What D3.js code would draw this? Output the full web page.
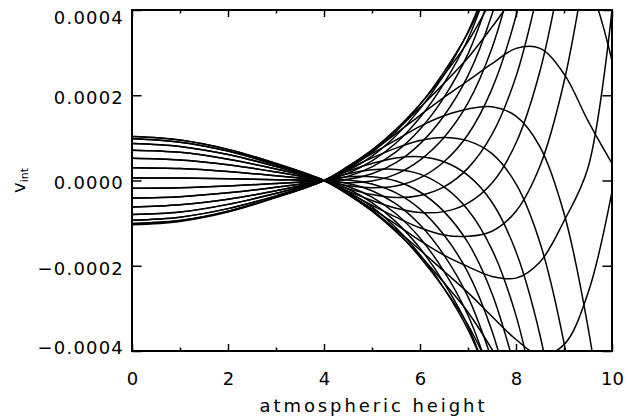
<!DOCTYPE html>
<html>
<head>
<meta charset="utf-8">
<script src="https://cdn.jsdelivr.net/npm/d3@7"></script>
<style>
  html, body { margin: 0; padding: 0; background: #fff; }
  svg { display: block; font-family: "DejaVu Sans", sans-serif; }
</style>
</head>
<body>
<svg id="chart" width="628" height="419"></svg>
<script>
// Heights at which every v_int profile is sampled
const heights = [0, 1, 2, 3, 4, 4.5, 5, 5.5, 6, 6.5, 7, 7.5, 8, 8.5, 9, 9.5, 10];

// v_int profiles (units of 1e-4), one per snapshot.
// A profile stops at its first sample beyond the plotted range.
const profiles = [
  [-1.04, -0.96, -0.74, -0.40, 0, 0.33, 0.69, 1.10, 1.53, 1.95, 2.34, 2.74, 3.10, 3.10, 2.50, 1.40, 0.40],
  [-1.01, -0.94, -0.72, -0.39, 0, 0.33, 0.72, 1.18, 1.71, 2.28, 2.88, 3.60, 4.37, 5.04, 5.27, 4.63, 2.81],
  [-0.93, -0.86, -0.66, -0.36, 0, 0.31, 0.71, 1.20, 1.79, 2.48, 3.26, 4.27],
  [-0.80, -0.74, -0.56, -0.30, 0, 0.28, 0.66, 1.15, 1.78, 2.55, 3.47, 4.71],
  [-0.62, -0.57, -0.44, -0.24, 0, 0.23, 0.57, 1.05, 1.68, 2.48, 3.49, 4.90],
  [-0.41, -0.38, -0.29, -0.16, 0, 0.17, 0.46, 0.88, 1.48, 2.28, 3.32, 4.82],
  [-0.18, -0.17, -0.13, -0.07, 0, 0.10, 0.32, 0.67, 1.20, 1.95, 2.97, 4.48],
  [0.06, 0.06, 0.04, 0.02, 0, 0.03, 0.16, 0.42, 0.86, 1.52, 2.46, 3.90, 6.02],
  [0.30, 0.28, 0.21, 0.11, 0, -0.05, -0.01, 0.15, 0.48, 1.01, 1.82, 3.11, 5.07],
  [0.52, 0.48, 0.37, 0.20, 0, -0.12, -0.17, -0.13, 0.06, 0.44, 1.08, 2.15, 3.86, 6.49],
  [0.71, 0.66, 0.50, 0.27, 0, -0.19, -0.33, -0.40, -0.35, -0.15, 0.29, 1.08, 2.44, 4.65],
  [0.87, 0.80, 0.61, 0.33, 0, -0.25, -0.47, -0.65, -0.75, -0.73, -0.53, -0.06, 0.88, 2.57, 5.27],
  [0.98, 0.90, 0.69, 0.37, 0, -0.29, -0.58, -0.86, -1.11, -1.28, -1.31, -1.19, -0.72, 0.34, 2.31, 5.41],
  [1.03, 0.95, 0.73, 0.40, 0, -0.32, -0.66, -1.03, -1.41, -1.75, -2.02, -2.25, -2.29, -1.91, -0.95, 0.30, 4.00],
  [1.03, 0.95, 0.73, 0.40, 0, -0.33, -0.71, -1.15, -1.63, -2.13, -2.63, -3.19, -3.73, -4.10, -3.85, -2.64, -0.26],
  [0.98, 0.90, 0.69, 0.37, 0, -0.32, -0.72, -1.20, -1.76, -2.40, -3.09, -3.96, -4.96],
  [0.87, 0.80, 0.61, 0.33, 0, -0.30, -0.69, -1.18, -1.80, -2.53, -3.39, -4.52],
  [0.71, 0.66, 0.50, 0.27, 0, -0.26, -0.62, -1.11, -1.74, -2.53, -3.50, -4.84],
  [0.52, 0.48, 0.37, 0.20, 0, -0.20, -0.52, -0.97, -1.59, -2.40, -3.42, -4.89],
  [0.30, 0.28, 0.21, 0.11, 0, -0.14, -0.39, -0.78, -1.35, -2.13, -3.16, -4.68],
  [0.06, 0.06, 0.04, 0.02, 0, -0.07, -0.24, -0.55, -1.04, -1.75, -2.73, -4.21],
  [-0.18, -0.17, -0.13, -0.07, 0, 0.01, -0.08, -0.29, -0.67, -1.28, -2.16, -3.53, -5.58],
  [-0.41, -0.38, -0.29, -0.16, 0, 0.09, 0.09, -0.01, -0.27, -0.73, -1.46, -2.65, -4.50],
  [-0.62, -0.57, -0.44, -0.24, 0, 0.16, 0.25, 0.26, 0.15, -0.15, -0.69, -1.62, -3.17, -5.61],
  [-0.80, -0.74, -0.56, -0.30, 0, 0.22, 0.40, 0.53, 0.56, 0.44, 0.12, -0.51, -1.67, -3.63, -6.65],
  [-0.93, -0.86, -0.66, -0.36, 0, 0.27, 0.53, 0.76, 0.94, 1.01, 0.93, 0.63, -0.08, -1.46, -3.81, -7.31],
  [-1.01, -0.94, -0.72, -0.39, 0, 0.31, 0.63, 0.95, 1.27, 1.52, 1.68, 1.73, 1.51, 0.79, -0.77, -3.44, -7.28]
];
const valueUnit = 1e-4;

// Axis ticks and titles
const xTicks = [0, 2, 4, 6, 8, 10];
const xMinorTicks = [1, 3, 5, 7, 9];
const yTicks = [-0.0004, -0.0002, 0, 0.0002, 0.0004];
const xTitle = "atmospheric height";
const yTitleMain = "v";
const yTitleSub = "int";

// ---- drawing ----
const plot = { left: 132, right: 612, top: 10, bottom: 351 };
const x = d3.scaleLinear().domain([0, 10]).range([plot.left, plot.right]);
const y = d3.scaleLinear().domain([-0.0004, 0.0004]).range([plot.bottom, plot.top]);

const svg = d3.select("#chart");

svg.append("defs").append("clipPath").attr("id", "plotClip")
  .append("rect")
  .attr("x", plot.left).attr("y", plot.top)
  .attr("width", plot.right - plot.left)
  .attr("height", plot.bottom - plot.top);

const line = d3.line()
  .x((d, i) => x(heights[i]))
  .y(d => y(d * valueUnit))
  .curve(d3.curveCatmullRom.alpha(0.5));

svg.append("g")
  .attr("clip-path", "url(#plotClip)")
  .selectAll("path")
  .data(profiles)
  .join("path")
  .attr("d", line)
  .attr("fill", "none")
  .attr("stroke", "#000")
  .attr("stroke-width", 1.5)
  .attr("stroke-linejoin", "round");

const fontSize = 18;
function tidy(g) {
  g.attr("font-size", fontSize).attr("font-family", "DejaVu Sans, sans-serif");
  g.select(".domain").remove();
  g.selectAll(".tick line").attr("stroke", "#000").attr("stroke-width", 1.5);
  g.selectAll(".tick text").attr("fill", "#000");
}

// bottom axis: major ticks with labels, minor ticks
svg.append("g").attr("transform", `translate(0,${plot.bottom})`)
  .call(d3.axisBottom(x).tickValues(xTicks).tickSize(-7).tickPadding(21).tickFormat(d3.format("d")))
  .call(tidy);
svg.append("g").attr("transform", `translate(0,${plot.bottom})`)
  .call(d3.axisBottom(x).tickValues(xMinorTicks).tickSize(-3.5).tickFormat(""))
  .call(tidy);

// top axis: ticks only
svg.append("g").attr("transform", `translate(0,${plot.top})`)
  .call(d3.axisTop(x).tickValues(xTicks).tickSize(-7).tickFormat(""))
  .call(tidy);
svg.append("g").attr("transform", `translate(0,${plot.top})`)
  .call(d3.axisTop(x).tickValues(xMinorTicks).tickSize(-3.5).tickFormat(""))
  .call(tidy);

// left axis with labels
const yAxisG = svg.append("g").attr("transform", `translate(${plot.left},0)`)
  .call(d3.axisLeft(y).tickValues(yTicks).tickSize(-9.6).tickPadding(8).tickFormat(d3.format(".4f")))
  .call(tidy);
yAxisG.selectAll(".tick text")
  .attr("letter-spacing", 1.2)
  .attr("dy", "0.47em")
  .attr("y", d => (d === yTicks[yTicks.length - 1] ? 5 : d === yTicks[0] ? -6 : 0));

// right axis: ticks only
svg.append("g").attr("transform", `translate(${plot.right},0)`)
  .call(d3.axisRight(y).tickValues(yTicks).tickSize(-9.6).tickFormat(""))
  .call(tidy);

// frame
svg.append("rect")
  .attr("x", plot.left).attr("y", plot.top)
  .attr("width", plot.right - plot.left)
  .attr("height", plot.bottom - plot.top)
  .attr("fill", "none").attr("stroke", "#000").attr("stroke-width", 2);

// axis titles
svg.append("text")
  .attr("x", (plot.left + plot.right) / 2)
  .attr("y", 412)
  .attr("text-anchor", "middle")
  .attr("font-size", fontSize)
  .attr("textLength", 225)
  .attr("lengthAdjust", "spacing")
  .text(xTitle);

const yTitle = svg.append("text")
  .attr("transform", `translate(25,${(plot.top + plot.bottom) / 2}) rotate(-90)`)
  .attr("text-anchor", "middle")
  .attr("font-size", fontSize);
yTitle.append("tspan").text(yTitleMain);
yTitle.append("tspan").attr("font-size", 11).attr("dy", 3).text(yTitleSub);
</script>
</body>
</html>
